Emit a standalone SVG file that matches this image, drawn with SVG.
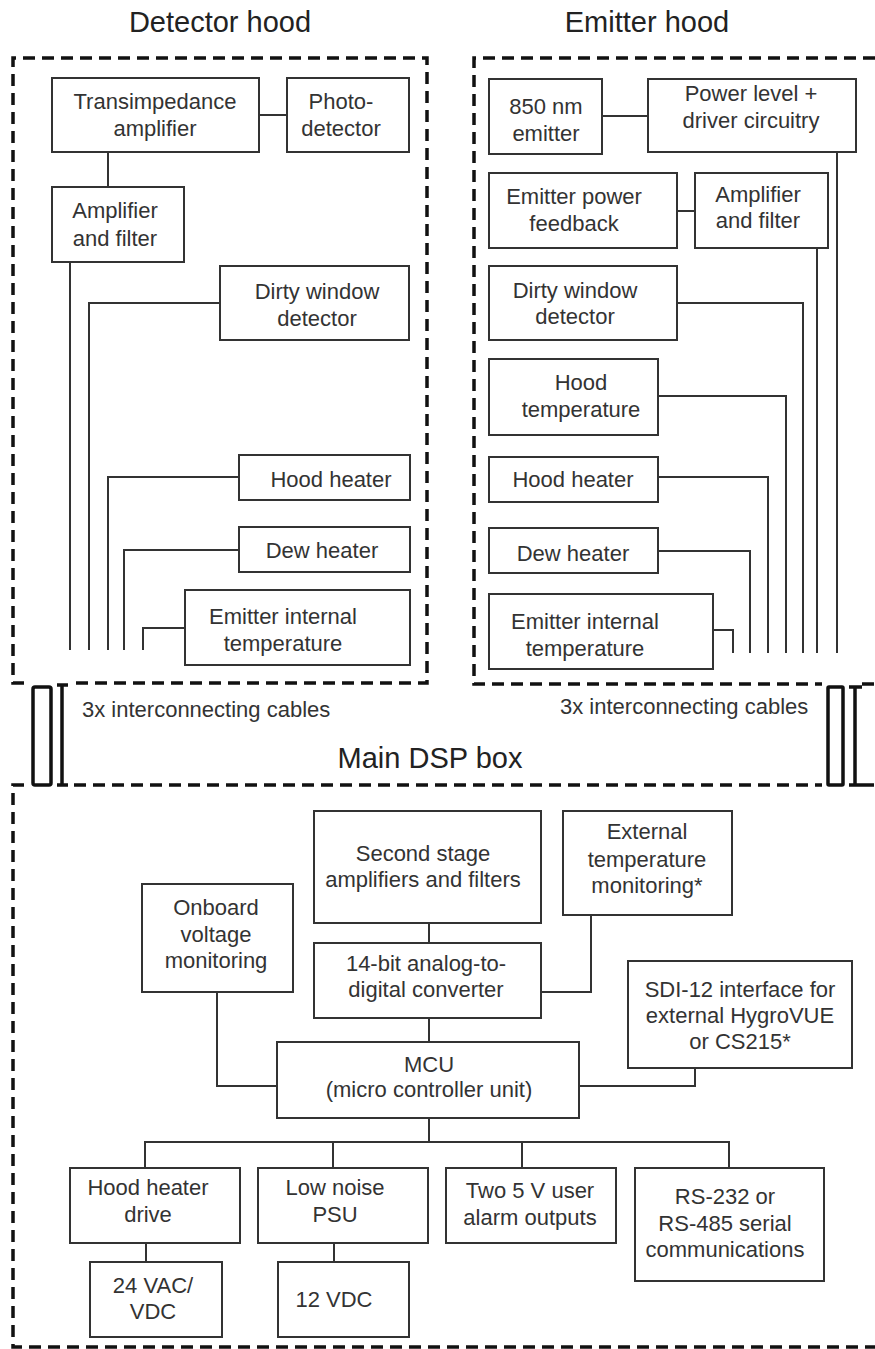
<svg xmlns="http://www.w3.org/2000/svg" width="875" height="1349" viewBox="0 0 875 1349">
<style>
.box{fill:#fff;stroke:#333;stroke-width:2}
.t{font-family:"Liberation Sans",Arial,sans-serif;font-size:22px;fill:#333;text-anchor:middle}
.ts{font-family:"Liberation Sans",Arial,sans-serif;font-size:22px;fill:#333}
.title{font-family:"Liberation Sans",Arial,sans-serif;font-size:29px;fill:#222;text-anchor:middle}
.wire{fill:none;stroke:#333;stroke-width:2}
.dash{fill:none;stroke:#111;stroke-width:3.5;stroke-dasharray:12 7}
.cable{fill:none;stroke:#111;stroke-width:3.5}
</style>
<rect width="875" height="1349" fill="#fff"/>
<g id="frames">
<path class="dash" d="M24,683 H13 V58 H427 V683 H74"/>
<path class="dash" d="M875,58 H474 V684 H822 M862,684 H875"/>
<path class="dash" d="M24,785 H13 V1347 H875 M74,785 H822 M862,785 H875"/>
<text class="title" x="220" y="32">Detector hood</text>
<text class="title" x="647" y="32">Emitter hood</text>
<text class="title" x="430" y="768">Main DSP box</text>
</g>
<g id="cables">
<rect class="cable" x="33" y="687" width="18" height="98" rx="2"/>
<path class="cable" d="M62,685 V785 M57,685 H68 M57,785 H68"/>
<rect class="cable" x="828" y="687" width="15" height="98" rx="1"/>
<path class="cable" d="M855,687 V785 M849,687 H862 M849,785 H862"/>
<text class="ts" x="82" y="717">3x interconnecting cables</text>
<text class="ts" x="560" y="714">3x interconnecting cables</text>
</g>
<g id="connectors">
<path class="wire" d="M259,115 H287"/>
<path class="wire" d="M108,152 V187"/>
<path class="wire" d="M70,262 V650"/>
<path class="wire" d="M220,303 H89 V650"/>
<path class="wire" d="M239,477 H108 V650"/>
<path class="wire" d="M239,550 H124 V650"/>
<path class="wire" d="M185,628 H143 V650"/>
<path class="wire" d="M602,116 H648"/>
<path class="wire" d="M677,211 H695"/>
<path class="wire" d="M837,152 V653"/>
<path class="wire" d="M817,248 V653"/>
<path class="wire" d="M677,303 H803 V653"/>
<path class="wire" d="M658,396 H786 V653"/>
<path class="wire" d="M658,477 H768 V653"/>
<path class="wire" d="M658,551 H750 V653"/>
<path class="wire" d="M713,630 H733 V653"/>
<path class="wire" d="M429,923 V943"/>
<path class="wire" d="M429,1018 V1042"/>
<path class="wire" d="M217,992 V1086 H277"/>
<path class="wire" d="M591,915 V992 H541"/>
<path class="wire" d="M695,1068 V1086 H579"/>
<path class="wire" d="M429,1118 V1142"/>
<path class="wire" d="M145,1168 V1142 H729 V1168"/>
<path class="wire" d="M333,1142 V1168"/>
<path class="wire" d="M522,1142 V1168"/>
<path class="wire" d="M146,1243 V1262"/>
<path class="wire" d="M334,1243 V1262"/>
</g>
<g id="tia"><rect class="box" x="52" y="78" width="207" height="74"/><text class="t" x="155" y="109">Transimpedance</text><text class="t" x="155" y="136">amplifier</text></g>
<g id="photodetector"><rect class="box" x="287" y="78" width="122" height="74"/><text class="t" x="341" y="109">Photo-</text><text class="t" x="341" y="136">detector</text></g>
<g id="amp1"><rect class="box" x="52" y="187" width="132" height="75"/><text class="t" x="115" y="218">Amplifier</text><text class="t" x="115" y="246">and filter</text></g>
<g id="dirty1"><rect class="box" x="220" y="266" width="189" height="74"/><text class="t" x="317" y="299">Dirty window</text><text class="t" x="317" y="326">detector</text></g>
<g id="hoodheater1"><rect class="box" x="239" y="455" width="171" height="45"/><text class="t" x="331" y="487">Hood heater</text></g>
<g id="dew1"><rect class="box" x="239" y="527" width="171" height="45"/><text class="t" x="322" y="558">Dew heater</text></g>
<g id="eit1"><rect class="box" x="185" y="590" width="225" height="75"/><text class="t" x="283" y="624">Emitter internal</text><text class="t" x="283" y="651">temperature</text></g>
<g id="emitter850"><rect class="box" x="489" y="79" width="113" height="75"/><text class="t" x="546" y="114">850 nm</text><text class="t" x="546" y="141">emitter</text></g>
<g id="powerlevel"><rect class="box" x="648" y="79" width="208" height="73"/><text class="t" x="751" y="101">Power level +</text><text class="t" x="751" y="128">driver circuitry</text></g>
<g id="epf"><rect class="box" x="489" y="173" width="188" height="75"/><text class="t" x="574" y="204">Emitter power</text><text class="t" x="574" y="231">feedback</text></g>
<g id="amp2"><rect class="box" x="695" y="173" width="133" height="75"/><text class="t" x="758" y="202">Amplifier</text><text class="t" x="758" y="228">and filter</text></g>
<g id="dirty2"><rect class="box" x="489" y="266" width="188" height="74"/><text class="t" x="575" y="298">Dirty window</text><text class="t" x="575" y="324">detector</text></g>
<g id="hoodtemp"><rect class="box" x="489" y="359" width="169" height="76"/><text class="t" x="581" y="390">Hood</text><text class="t" x="581" y="417">temperature</text></g>
<g id="hoodheater2"><rect class="box" x="489" y="457" width="169" height="45"/><text class="t" x="573" y="487">Hood heater</text></g>
<g id="dew2"><rect class="box" x="489" y="528" width="169" height="45"/><text class="t" x="573" y="561">Dew heater</text></g>
<g id="eit2"><rect class="box" x="489" y="594" width="224" height="75"/><text class="t" x="585" y="629">Emitter internal</text><text class="t" x="585" y="656">temperature</text></g>
<g id="secondstage"><rect class="box" x="314" y="811" width="227" height="112"/><text class="t" x="423" y="861">Second stage</text><text class="t" x="423" y="887">amplifiers and filters</text></g>
<g id="adc"><rect class="box" x="314" y="943" width="227" height="75"/><text class="t" x="426" y="971">14-bit analog-to-</text><text class="t" x="426" y="997">digital converter</text></g>
<g id="onboard"><rect class="box" x="142" y="884" width="151" height="108"/><text class="t" x="216" y="915">Onboard</text><text class="t" x="216" y="942">voltage</text><text class="t" x="216" y="968">monitoring</text></g>
<g id="exttemp"><rect class="box" x="563" y="811" width="169" height="104"/><text class="t" x="647" y="839">External</text><text class="t" x="647" y="867">temperature</text><text class="t" x="647" y="893">monitoring*</text></g>
<g id="sdi12"><rect class="box" x="628" y="961" width="224" height="107"/><text class="t" x="740" y="997">SDI-12 interface for</text><text class="t" x="740" y="1023">external HygroVUE</text><text class="t" x="740" y="1049">or CS215*</text></g>
<g id="mcu"><rect class="box" x="277" y="1042" width="302" height="76"/><text class="t" x="429" y="1072">MCU</text><text class="t" x="429" y="1097">(micro controller unit)</text></g>
<g id="hoodheaterdrive"><rect class="box" x="70" y="1168" width="170" height="75"/><text class="t" x="148" y="1195">Hood heater</text><text class="t" x="148" y="1222">drive</text></g>
<g id="psu"><rect class="box" x="258" y="1168" width="170" height="75"/><text class="t" x="335" y="1195">Low noise</text><text class="t" x="335" y="1222">PSU</text></g>
<g id="alarm"><rect class="box" x="446" y="1168" width="170" height="75"/><text class="t" x="530" y="1198">Two 5 V user</text><text class="t" x="530" y="1225">alarm outputs</text></g>
<g id="serial"><rect class="box" x="635" y="1168" width="189" height="113"/><text class="t" x="725" y="1204">RS-232 or</text><text class="t" x="725" y="1231">RS-485 serial</text><text class="t" x="725" y="1257">communications</text></g>
<g id="v24"><rect class="box" x="90" y="1262" width="132" height="75"/><text class="t" x="153" y="1293">24 VAC/</text><text class="t" x="153" y="1319">VDC</text></g>
<g id="v12"><rect class="box" x="278" y="1262" width="131" height="75"/><text class="t" x="334" y="1307">12 VDC</text></g>
</svg>
